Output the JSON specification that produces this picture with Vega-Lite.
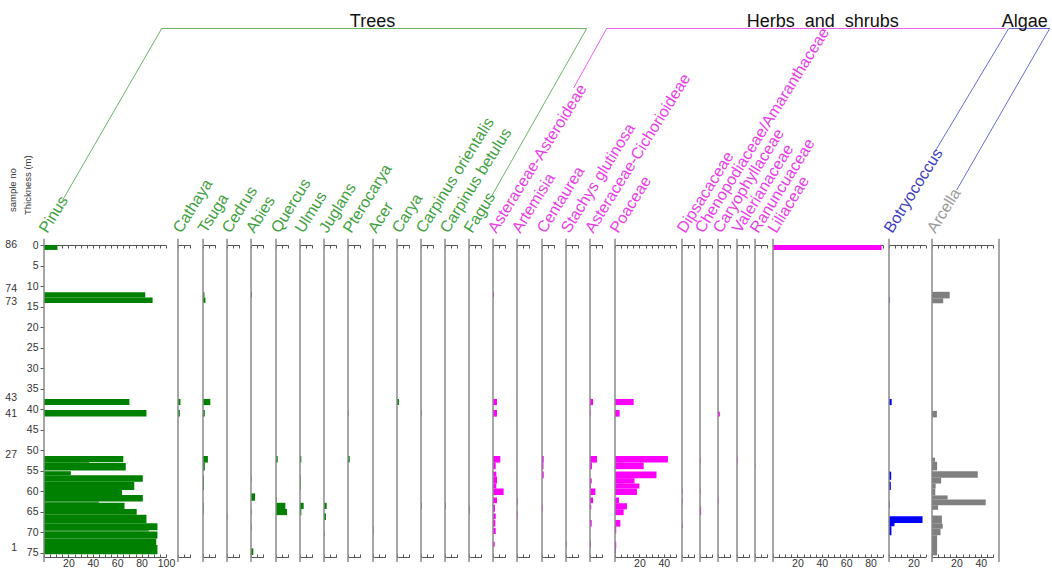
{
"$schema": "https://vega.github.io/schema/vega-lite/v6.json",
"autosize": {"type": "pad"},
"padding": {"left": 5, "top": 13, "right": 0, "bottom": 0},
"background": "white",
"config": {"view": {"stroke": null}, "font": "Liberation Sans",
  "axis": {"grid": false, "domainColor": "#555", "tickColor": "#555", "tickSize": -3, "labelFontSize": 10.5, "labelColor": "#333", "labelFont": "Liberation Sans", "domainWidth": 1, "tickWidth": 1, "labelPadding": 4, "labelFlush": false, "labelOverlap": false}},
"bounds": "flush",
"spacing": 0,
"data": {"values": [{}]},
"datasets": {
"samples": [{"sample": "86", "depth": 0}, {"sample": "74", "depth": 10.7}, {"sample": "73", "depth": 13.8}, {"sample": "43", "depth": 37.3}, {"sample": "41", "depth": 41.2}, {"sample": "27", "depth": 51.2}, {"sample": "1", "depth": 73.9}],
"pollen": [
{"taxon": "Pinus", "top": 0, "bottom": 1.2, "value": 11},
{"taxon": "Pinus", "top": 11.5, "bottom": 12.8, "value": 83},
{"taxon": "Pinus", "top": 12.8, "bottom": 14.1, "value": 89},
{"taxon": "Pinus", "top": 37.5, "bottom": 39.0, "value": 70},
{"taxon": "Pinus", "top": 40.2, "bottom": 41.8, "value": 84},
{"taxon": "Pinus", "top": 51.4, "bottom": 52.9, "value": 65},
{"taxon": "Pinus", "top": 52.9, "bottom": 53.1, "value": 37},
{"taxon": "Pinus", "top": 53.1, "bottom": 54.9, "value": 67},
{"taxon": "Pinus", "top": 55.1, "bottom": 56.1, "value": 22},
{"taxon": "Pinus", "top": 56.1, "bottom": 57.7, "value": 81},
{"taxon": "Pinus", "top": 57.7, "bottom": 59.7, "value": 74},
{"taxon": "Pinus", "top": 59.7, "bottom": 60.9, "value": 64},
{"taxon": "Pinus", "top": 60.9, "bottom": 62.5, "value": 81},
{"taxon": "Pinus", "top": 62.5, "bottom": 62.8, "value": 45},
{"taxon": "Pinus", "top": 62.8, "bottom": 64.3, "value": 66},
{"taxon": "Pinus", "top": 64.3, "bottom": 65.7, "value": 76},
{"taxon": "Pinus", "top": 65.7, "bottom": 67.8, "value": 84},
{"taxon": "Pinus", "top": 67.8, "bottom": 69.5, "value": 93},
{"taxon": "Pinus", "top": 69.5, "bottom": 69.8, "value": 86},
{"taxon": "Pinus", "top": 69.8, "bottom": 71.5, "value": 93},
{"taxon": "Pinus", "top": 71.5, "bottom": 73.1, "value": 92},
{"taxon": "Pinus", "top": 73.1, "bottom": 75.3, "value": 93},
{"taxon": "Cathaya", "top": 37.5, "bottom": 39.0, "value": 2},
{"taxon": "Cathaya", "top": 40.2, "bottom": 41.8, "value": 1.5},
{"taxon": "Tsuga", "top": 11.5, "bottom": 12.8, "value": 1.2},
{"taxon": "Tsuga", "top": 12.8, "bottom": 14.1, "value": 2},
{"taxon": "Tsuga", "top": 37.5, "bottom": 39.0, "value": 6},
{"taxon": "Tsuga", "top": 40.2, "bottom": 41.8, "value": 1.5},
{"taxon": "Tsuga", "top": 51.4, "bottom": 53.0, "value": 4},
{"taxon": "Tsuga", "top": 53.0, "bottom": 54.9, "value": 1.5},
{"taxon": "Tsuga", "top": 56.1, "bottom": 57.7, "value": 0.8},
{"taxon": "Tsuga", "top": 57.7, "bottom": 59.7, "value": 0.8},
{"taxon": "Tsuga", "top": 62.8, "bottom": 64.3, "value": 0.6},
{"taxon": "Tsuga", "top": 64.3, "bottom": 65.7, "value": 0.5},
{"taxon": "Cedrus", "top": 65.4, "bottom": 67.0, "value": 0.4},
{"taxon": "Abies", "top": 11.5, "bottom": 12.8, "value": 0.7},
{"taxon": "Abies", "top": 56.1, "bottom": 57.7, "value": 0.4},
{"taxon": "Abies", "top": 60.5, "bottom": 62.3, "value": 3.3},
{"taxon": "Abies", "top": 64.3, "bottom": 65.7, "value": 0.4},
{"taxon": "Abies", "top": 67.8, "bottom": 69.6, "value": 0.4},
{"taxon": "Abies", "top": 73.9, "bottom": 75.5, "value": 1.9},
{"taxon": "Quercus", "top": 51.4, "bottom": 53.0, "value": 1.4},
{"taxon": "Quercus", "top": 61.3, "bottom": 62.8, "value": 0.5},
{"taxon": "Quercus", "top": 62.8, "bottom": 64.3, "value": 7.7},
{"taxon": "Quercus", "top": 64.3, "bottom": 65.8, "value": 9},
{"taxon": "Ulmus", "top": 51.4, "bottom": 53.0, "value": 1.1},
{"taxon": "Ulmus", "top": 56.1, "bottom": 57.7, "value": 0.6},
{"taxon": "Ulmus", "top": 57.7, "bottom": 59.7, "value": 0.6},
{"taxon": "Ulmus", "top": 62.8, "bottom": 64.3, "value": 3},
{"taxon": "Ulmus", "top": 64.3, "bottom": 65.8, "value": 1.1},
{"taxon": "Juglans", "top": 62.8, "bottom": 64.3, "value": 2.2},
{"taxon": "Juglans", "top": 65.4, "bottom": 67.0, "value": 1.6},
{"taxon": "Juglans", "top": 69.8, "bottom": 71.0, "value": 0.5},
{"taxon": "Pterocarya", "top": 40.2, "bottom": 41.8, "value": 0.5},
{"taxon": "Pterocarya", "top": 51.4, "bottom": 53.0, "value": 1.4},
{"taxon": "Acer", "top": 68.6, "bottom": 70.6, "value": 0.4},
{"taxon": "Carya", "top": 37.5, "bottom": 39.0, "value": 1.6},
{"taxon": "Carpinus orientalis", "top": 40.2, "bottom": 41.8, "value": 0.5},
{"taxon": "Carpinus orientalis", "top": 62.8, "bottom": 64.3, "value": 0.5},
{"taxon": "Carpinus betulus", "top": 62.8, "bottom": 64.3, "value": 0.5},
{"taxon": "Fagus", "top": 63.5, "bottom": 65.5, "value": 0.5},
{"taxon": "Asteraceae-Asteroideae", "top": 11.5, "bottom": 12.8, "value": 0.8},
{"taxon": "Asteraceae-Asteroideae", "top": 37.5, "bottom": 39.0, "value": 3.3},
{"taxon": "Asteraceae-Asteroideae", "top": 40.2, "bottom": 41.8, "value": 3.3},
{"taxon": "Asteraceae-Asteroideae", "top": 51.4, "bottom": 53.0, "value": 6},
{"taxon": "Asteraceae-Asteroideae", "top": 53.0, "bottom": 54.6, "value": 2.2},
{"taxon": "Asteraceae-Asteroideae", "top": 55.2, "bottom": 56.4, "value": 2.7},
{"taxon": "Asteraceae-Asteroideae", "top": 56.4, "bottom": 58.1, "value": 3.3},
{"taxon": "Asteraceae-Asteroideae", "top": 58.1, "bottom": 59.3, "value": 2.7},
{"taxon": "Asteraceae-Asteroideae", "top": 59.3, "bottom": 60.9, "value": 8.7},
{"taxon": "Asteraceae-Asteroideae", "top": 61.5, "bottom": 62.9, "value": 3.3},
{"taxon": "Asteraceae-Asteroideae", "top": 63.3, "bottom": 65.0, "value": 1.6},
{"taxon": "Asteraceae-Asteroideae", "top": 65.4, "bottom": 66.8, "value": 2.2},
{"taxon": "Asteraceae-Asteroideae", "top": 67.0, "bottom": 68.6, "value": 1.9},
{"taxon": "Asteraceae-Asteroideae", "top": 68.9, "bottom": 70.4, "value": 2.2},
{"taxon": "Asteraceae-Asteroideae", "top": 72.3, "bottom": 73.5, "value": 1.4},
{"taxon": "Artemisia", "top": 61.5, "bottom": 63.3, "value": 0.6},
{"taxon": "Artemisia", "top": 65.0, "bottom": 66.8, "value": 0.6},
{"taxon": "Centaurea", "top": 51.4, "bottom": 53.0, "value": 1.4},
{"taxon": "Centaurea", "top": 53.0, "bottom": 54.6, "value": 1.2},
{"taxon": "Centaurea", "top": 55.2, "bottom": 56.8, "value": 1.4},
{"taxon": "Centaurea", "top": 63.3, "bottom": 65.0, "value": 0.5},
{"taxon": "Stachys glutinosa", "top": 72.3, "bottom": 73.5, "value": 0.6},
{"taxon": "Asteraceae-Cichorioideae", "top": 37.5, "bottom": 39.0, "value": 2.5},
{"taxon": "Asteraceae-Cichorioideae", "top": 40.2, "bottom": 41.8, "value": 0.5},
{"taxon": "Asteraceae-Cichorioideae", "top": 51.4, "bottom": 53.0, "value": 5.7},
{"taxon": "Asteraceae-Cichorioideae", "top": 53.0, "bottom": 54.6, "value": 1.6},
{"taxon": "Asteraceae-Cichorioideae", "top": 56.8, "bottom": 58.1, "value": 1.4},
{"taxon": "Asteraceae-Cichorioideae", "top": 58.1, "bottom": 59.3, "value": 0.6},
{"taxon": "Asteraceae-Cichorioideae", "top": 59.3, "bottom": 60.9, "value": 4.4},
{"taxon": "Asteraceae-Cichorioideae", "top": 61.5, "bottom": 62.9, "value": 2.5},
{"taxon": "Asteraceae-Cichorioideae", "top": 63.3, "bottom": 64.4, "value": 1},
{"taxon": "Asteraceae-Cichorioideae", "top": 67.0, "bottom": 68.6, "value": 1.4},
{"taxon": "Asteraceae-Cichorioideae", "top": 72.3, "bottom": 73.5, "value": 0.8},
{"taxon": "Poaceae", "top": 37.5, "bottom": 39.0, "value": 15.3},
{"taxon": "Poaceae", "top": 40.2, "bottom": 41.8, "value": 3.8},
{"taxon": "Poaceae", "top": 51.4, "bottom": 53.0, "value": 43.4},
{"taxon": "Poaceae", "top": 53.0, "bottom": 54.6, "value": 23.5},
{"taxon": "Poaceae", "top": 55.2, "bottom": 56.8, "value": 34},
{"taxon": "Poaceae", "top": 56.8, "bottom": 58.1, "value": 16},
{"taxon": "Poaceae", "top": 58.1, "bottom": 59.3, "value": 20},
{"taxon": "Poaceae", "top": 59.3, "bottom": 60.9, "value": 18},
{"taxon": "Poaceae", "top": 61.5, "bottom": 62.9, "value": 3.3},
{"taxon": "Poaceae", "top": 62.9, "bottom": 64.4, "value": 9.8},
{"taxon": "Poaceae", "top": 64.4, "bottom": 65.8, "value": 7.1},
{"taxon": "Poaceae", "top": 67.0, "bottom": 68.6, "value": 4.4},
{"taxon": "Poaceae", "top": 68.6, "bottom": 70.2, "value": 1},
{"taxon": "Poaceae", "top": 72.3, "bottom": 73.9, "value": 1},
{"taxon": "Poaceae", "top": 73.9, "bottom": 75.2, "value": 0.8},
{"taxon": "Dipsacaceae", "top": 59.3, "bottom": 60.5, "value": 0.5},
{"taxon": "Dipsacaceae", "top": 61.7, "bottom": 63.3, "value": 0.5},
{"taxon": "Dipsacaceae", "top": 67.8, "bottom": 69.0, "value": 0.5},
{"taxon": "Chenopodiaceae/Amaranthaceae", "top": 52.0, "bottom": 53.2, "value": 0.5},
{"taxon": "Chenopodiaceae/Amaranthaceae", "top": 59.3, "bottom": 60.5, "value": 0.5},
{"taxon": "Chenopodiaceae/Amaranthaceae", "top": 63.7, "bottom": 65.8, "value": 0.9},
{"taxon": "Caryophyllaceae", "top": 40.6, "bottom": 41.8, "value": 1.5},
{"taxon": "Caryophyllaceae", "top": 61.7, "bottom": 62.9, "value": 0.5},
{"taxon": "Valerianaceae", "top": 51.6, "bottom": 53.2, "value": 0.5},
{"taxon": "Ranuncuaceae", "top": 53.2, "bottom": 54.4, "value": 0.3},
{"taxon": "Liliaceae", "top": 0, "bottom": 1.2, "value": 89},
{"taxon": "Botryococcus", "top": 12.6, "bottom": 14.1, "value": 0.5},
{"taxon": "Botryococcus", "top": 37.5, "bottom": 39.0, "value": 2.2},
{"taxon": "Botryococcus", "top": 55.2, "bottom": 57.2, "value": 1.8},
{"taxon": "Botryococcus", "top": 57.7, "bottom": 59.7, "value": 1.5},
{"taxon": "Botryococcus", "top": 62.5, "bottom": 64.1, "value": 0.5},
{"taxon": "Botryococcus", "top": 66.1, "bottom": 67.7, "value": 27.5},
{"taxon": "Botryococcus", "top": 67.7, "bottom": 68.5, "value": 4.5},
{"taxon": "Botryococcus", "top": 68.5, "bottom": 70.7, "value": 2},
{"taxon": "Arcella", "top": 11.4, "bottom": 13.0, "value": 14.5},
{"taxon": "Arcella", "top": 13.0, "bottom": 14.2, "value": 9.2},
{"taxon": "Arcella", "top": 40.4, "bottom": 42.0, "value": 4},
{"taxon": "Arcella", "top": 51.8, "bottom": 52.8, "value": 2.5},
{"taxon": "Arcella", "top": 52.8, "bottom": 54.9, "value": 4.2},
{"taxon": "Arcella", "top": 55.1, "bottom": 56.7, "value": 37.5},
{"taxon": "Arcella", "top": 56.7, "bottom": 58.1, "value": 7.5},
{"taxon": "Arcella", "top": 58.1, "bottom": 59.3, "value": 3},
{"taxon": "Arcella", "top": 59.3, "bottom": 61.0, "value": 2.7},
{"taxon": "Arcella", "top": 61.0, "bottom": 62.0, "value": 12.8},
{"taxon": "Arcella", "top": 62.0, "bottom": 63.4, "value": 44},
{"taxon": "Arcella", "top": 63.4, "bottom": 64.5, "value": 5},
{"taxon": "Arcella", "top": 65.9, "bottom": 67.9, "value": 8.1},
{"taxon": "Arcella", "top": 67.9, "bottom": 69.1, "value": 8.8},
{"taxon": "Arcella", "top": 69.1, "bottom": 70.7, "value": 7},
{"taxon": "Arcella", "top": 70.7, "bottom": 75.6, "value": 4.2}
]},
"resolve": {"scale": {"x": "independent", "y": "independent"}},
"hconcat": [
{"width": 134, "height": 312, "layer": [
 {"data": {"name": "pollen"}, "transform": [{"filter": "datum.taxon == 'Pinus'"}], "mark": {"type": "rect", "color": "#008000"},
  "encoding": {"x": {"field": "value", "type": "quantitative", "scale": {"domain": [0, 100], "range": [0, 122], "nice": false}, "axis": {"orient": "bottom", "values": [0,5,10,15,20,25,30,35,40,45,50,55,60,65,70,75,80,85,90,95,100], "labelExpr": "datum.value > 0 && datum.value % 20 == 0 ? datum.label : ''", "title": null}},
   "x2": {"datum": 0},
   "y": {"field": "top", "type": "quantitative", "scale": {"domain": [0, 76], "reverse": true, "nice": false}, "axis": {"orient": "left", "values": [0,5,10,15,20,25,30,35,40,45,50,55,60,65,70,75], "tickSize": 4, "domain": false, "title": null, "labelPadding": 2}},
   "y2": {"field": "bottom"}}},
 {"mark": {"type": "rule", "color": "#8a8a8a", "strokeWidth": 1.5}, "encoding": {"x": {"datum": 0, "type": "quantitative", "axis": {"orient": "top", "values": [0,5,10,15,20,25,30,35,40,45,50,55,60,65,70,75,80,85,90,95,100], "labels": false, "title": null}}, "y": {"datum": -1.5, "type": "quantitative", "axis": null}, "y2": {"datum": 77.2}}},
 {"mark": {"type": "text", "text": "Pinus", "angle": 302, "align": "left", "baseline": "alphabetic", "dx": 11, "dy": -3, "fontSize": 16, "color": "#3f9f3f"}, "encoding": {"x": {"datum": 0, "type": "quantitative", "axis": null}, "y": {"datum": 0, "type": "quantitative", "axis": null}}},
 {"data": {"name": "samples"}, "mark": {"type": "text", "align": "right", "baseline": "middle", "dx": -27, "fontSize": 10.5, "color": "#333"}, "encoding": {"x": {"datum": 0, "type": "quantitative", "axis": null}, "y": {"field": "depth", "type": "quantitative", "axis": null}, "text": {"field": "sample"}}},
 {"mark": {"type": "text", "text": "Thickness (m)", "angle": 270, "align": "left", "baseline": "middle", "dx": 30, "dy": -16, "fontSize": 9.5, "color": "#333"}, "encoding": {"x": {"datum": 0, "type": "quantitative", "axis": null}, "y": {"datum": 0, "type": "quantitative", "axis": null}}},
 {"mark": {"type": "text", "text": "sample no", "angle": 270, "align": "left", "baseline": "middle", "dx": 33, "dy": -31, "fontSize": 9.5, "color": "#333"}, "encoding": {"x": {"datum": 0, "type": "quantitative", "axis": null}, "y": {"datum": 0, "type": "quantitative", "axis": null}}},
 {"mark": {"type": "rule", "color": "#6bb36b", "strokeWidth": 1}, "encoding": {"x": {"datum": 15.33, "type": "quantitative", "axis": null}, "x2": {"datum": 96.48}, "y": {"datum": -10.96, "type": "quantitative", "axis": null}, "y2": {"datum": -52.74}}},
 {"mark": {"type": "rule", "color": "#6bb36b", "strokeWidth": 1}, "encoding": {"x": {"datum": 96.48, "type": "quantitative", "axis": null}, "x2": {"datum": 444.84}, "y": {"datum": -52.74, "type": "quantitative", "axis": null}, "y2": {"datum": -52.74}}},
 {"mark": {"type": "rule", "color": "#6bb36b", "strokeWidth": 1}, "encoding": {"x": {"datum": 444.84, "type": "quantitative", "axis": null}, "x2": {"datum": 366.97}, "y": {"datum": -52.74, "type": "quantitative", "axis": null}, "y2": {"datum": -11.94}}},
 {"mark": {"type": "rule", "color": "#f060f0", "strokeWidth": 1}, "encoding": {"x": {"datum": 434.18, "type": "quantitative", "axis": null}, "x2": {"datum": 461.23}, "y": {"datum": -38.25, "type": "quantitative", "axis": null}, "y2": {"datum": -52.74}}},
 {"mark": {"type": "rule", "color": "#f060f0", "strokeWidth": 1}, "encoding": {"x": {"datum": 461.23, "type": "quantitative", "axis": null}, "x2": {"datum": 788.28}, "y": {"datum": -52.74, "type": "quantitative", "axis": null}, "y2": {"datum": -52.74}}},
 {"mark": {"type": "rule", "color": "#6a6ad8", "strokeWidth": 1}, "encoding": {"x": {"datum": 790.74, "type": "quantitative", "axis": null}, "x2": {"datum": 730.08}, "y": {"datum": -52.74, "type": "quantitative", "axis": null}, "y2": {"datum": -22.66}}},
 {"mark": {"type": "rule", "color": "#6a6ad8", "strokeWidth": 1}, "encoding": {"x": {"datum": 790.74, "type": "quantitative", "axis": null}, "x2": {"datum": 824.34}, "y": {"datum": -52.74, "type": "quantitative", "axis": null}, "y2": {"datum": -52.74}}},
 {"mark": {"type": "rule", "color": "#6a6ad8", "strokeWidth": 1}, "encoding": {"x": {"datum": 824.34, "type": "quantitative", "axis": null}, "x2": {"datum": 748.11}, "y": {"datum": -52.74, "type": "quantitative", "axis": null}, "y2": {"datum": -13.40}}},
 {"mark": {"type": "text", "text": "Trees", "align": "center", "baseline": "alphabetic", "fontSize": 18, "color": "#111"}, "encoding": {"x": {"datum": 269.3, "type": "quantitative", "axis": null}, "y": {"datum": -53.1, "type": "quantitative", "axis": null}}},
 {"mark": {"type": "text", "text": "Herbs\u00a0 and\u00a0 shrubs", "align": "center", "baseline": "alphabetic", "fontSize": 18, "color": "#111"}, "encoding": {"x": {"datum": 638.3, "type": "quantitative", "axis": null}, "y": {"datum": -53.1, "type": "quantitative", "axis": null}}},
 {"mark": {"type": "text", "text": "Algae", "align": "center", "baseline": "alphabetic", "fontSize": 18, "color": "#111"}, "encoding": {"x": {"datum": 803.9, "type": "quantitative", "axis": null}, "y": {"datum": -53.1, "type": "quantitative", "axis": null}}}
], "resolve": {"axis": {"x": "independent", "y": "independent"}}},
{"width": 25, "height": 312, "layer": [
 {"data": {"name": "pollen"}, "transform": [{"filter": "datum.taxon == 'Cathaya'"}], "mark": {"type": "rect", "color": "#008000"}, "encoding": {"x": {"field": "value", "type": "quantitative", "scale": {"domain": [0, 10], "range": [0, 12.2], "nice": false}, "axis": {"orient": "bottom", "values": [0, 5, 10], "labels": false, "title": null}}, "x2": {"datum": 0}, "y": {"field": "top", "type": "quantitative", "scale": {"domain": [0, 76], "reverse": true, "nice": false}, "axis": null}, "y2": {"field": "bottom"}}},
 {"mark": {"type": "rule", "color": "#8a8a8a", "strokeWidth": 1.5}, "encoding": {"x": {"datum": 0, "type": "quantitative", "axis": {"orient": "top", "values": [0, 5, 10], "labels": false, "title": null}}, "y": {"datum": -1.5, "type": "quantitative", "axis": null}, "y2": {"datum": 77.2}}},
 {"mark": {"type": "text", "text": "Cathaya", "angle": 302, "align": "left", "baseline": "alphabetic", "dx": 11, "dy": -3, "fontSize": 16, "color": "#3f9f3f"}, "encoding": {"x": {"datum": 0, "type": "quantitative", "axis": null}, "y": {"datum": 0, "type": "quantitative", "axis": null}}}
], "resolve": {"axis": {"x": "independent"}}},
{"width": 24, "height": 312, "layer": [
 {"data": {"name": "pollen"}, "transform": [{"filter": "datum.taxon == 'Tsuga'"}], "mark": {"type": "rect", "color": "#008000"}, "encoding": {"x": {"field": "value", "type": "quantitative", "scale": {"domain": [0, 10], "range": [0, 12.2], "nice": false}, "axis": {"orient": "bottom", "values": [0, 5, 10], "labels": false, "title": null}}, "x2": {"datum": 0}, "y": {"field": "top", "type": "quantitative", "scale": {"domain": [0, 76], "reverse": true, "nice": false}, "axis": null}, "y2": {"field": "bottom"}}},
 {"mark": {"type": "rule", "color": "#8a8a8a", "strokeWidth": 1.5}, "encoding": {"x": {"datum": 0, "type": "quantitative", "axis": {"orient": "top", "values": [0, 5, 10], "labels": false, "title": null}}, "y": {"datum": -1.5, "type": "quantitative", "axis": null}, "y2": {"datum": 77.2}}},
 {"mark": {"type": "text", "text": "Tsuga", "angle": 302, "align": "left", "baseline": "alphabetic", "dx": 11, "dy": -3, "fontSize": 16, "color": "#3f9f3f"}, "encoding": {"x": {"datum": 0, "type": "quantitative", "axis": null}, "y": {"datum": 0, "type": "quantitative", "axis": null}}}
], "resolve": {"axis": {"x": "independent"}}},
{"width": 24, "height": 312, "layer": [
 {"data": {"name": "pollen"}, "transform": [{"filter": "datum.taxon == 'Cedrus'"}], "mark": {"type": "rect", "color": "#008000"}, "encoding": {"x": {"field": "value", "type": "quantitative", "scale": {"domain": [0, 10], "range": [0, 12.2], "nice": false}, "axis": {"orient": "bottom", "values": [0, 5, 10], "labels": false, "title": null}}, "x2": {"datum": 0}, "y": {"field": "top", "type": "quantitative", "scale": {"domain": [0, 76], "reverse": true, "nice": false}, "axis": null}, "y2": {"field": "bottom"}}},
 {"mark": {"type": "rule", "color": "#8a8a8a", "strokeWidth": 1.5}, "encoding": {"x": {"datum": 0, "type": "quantitative", "axis": {"orient": "top", "values": [0, 5, 10], "labels": false, "title": null}}, "y": {"datum": -1.5, "type": "quantitative", "axis": null}, "y2": {"datum": 77.2}}},
 {"mark": {"type": "text", "text": "Cedrus", "angle": 302, "align": "left", "baseline": "alphabetic", "dx": 11, "dy": -3, "fontSize": 16, "color": "#3f9f3f"}, "encoding": {"x": {"datum": 0, "type": "quantitative", "axis": null}, "y": {"datum": 0, "type": "quantitative", "axis": null}}}
], "resolve": {"axis": {"x": "independent"}}},
{"width": 25, "height": 312, "layer": [
 {"data": {"name": "pollen"}, "transform": [{"filter": "datum.taxon == 'Abies'"}], "mark": {"type": "rect", "color": "#008000"}, "encoding": {"x": {"field": "value", "type": "quantitative", "scale": {"domain": [0, 10], "range": [0, 12.2], "nice": false}, "axis": {"orient": "bottom", "values": [0, 5, 10], "labels": false, "title": null}}, "x2": {"datum": 0}, "y": {"field": "top", "type": "quantitative", "scale": {"domain": [0, 76], "reverse": true, "nice": false}, "axis": null}, "y2": {"field": "bottom"}}},
 {"mark": {"type": "rule", "color": "#8a8a8a", "strokeWidth": 1.5}, "encoding": {"x": {"datum": 0, "type": "quantitative", "axis": {"orient": "top", "values": [0, 5, 10], "labels": false, "title": null}}, "y": {"datum": -1.5, "type": "quantitative", "axis": null}, "y2": {"datum": 77.2}}},
 {"mark": {"type": "text", "text": "Abies", "angle": 302, "align": "left", "baseline": "alphabetic", "dx": 11, "dy": -3, "fontSize": 16, "color": "#3f9f3f"}, "encoding": {"x": {"datum": 0, "type": "quantitative", "axis": null}, "y": {"datum": 0, "type": "quantitative", "axis": null}}}
], "resolve": {"axis": {"x": "independent"}}},
{"width": 24, "height": 312, "layer": [
 {"data": {"name": "pollen"}, "transform": [{"filter": "datum.taxon == 'Quercus'"}], "mark": {"type": "rect", "color": "#008000"}, "encoding": {"x": {"field": "value", "type": "quantitative", "scale": {"domain": [0, 10], "range": [0, 12.2], "nice": false}, "axis": {"orient": "bottom", "values": [0, 5, 10], "labels": false, "title": null}}, "x2": {"datum": 0}, "y": {"field": "top", "type": "quantitative", "scale": {"domain": [0, 76], "reverse": true, "nice": false}, "axis": null}, "y2": {"field": "bottom"}}},
 {"mark": {"type": "rule", "color": "#8a8a8a", "strokeWidth": 1.5}, "encoding": {"x": {"datum": 0, "type": "quantitative", "axis": {"orient": "top", "values": [0, 5, 10], "labels": false, "title": null}}, "y": {"datum": -1.5, "type": "quantitative", "axis": null}, "y2": {"datum": 77.2}}},
 {"mark": {"type": "text", "text": "Quercus", "angle": 302, "align": "left", "baseline": "alphabetic", "dx": 11, "dy": -3, "fontSize": 16, "color": "#3f9f3f"}, "encoding": {"x": {"datum": 0, "type": "quantitative", "axis": null}, "y": {"datum": 0, "type": "quantitative", "axis": null}}}
], "resolve": {"axis": {"x": "independent"}}},
{"width": 24, "height": 312, "layer": [
 {"data": {"name": "pollen"}, "transform": [{"filter": "datum.taxon == 'Ulmus'"}], "mark": {"type": "rect", "color": "#008000"}, "encoding": {"x": {"field": "value", "type": "quantitative", "scale": {"domain": [0, 10], "range": [0, 12.2], "nice": false}, "axis": {"orient": "bottom", "values": [0, 5, 10], "labels": false, "title": null}}, "x2": {"datum": 0}, "y": {"field": "top", "type": "quantitative", "scale": {"domain": [0, 76], "reverse": true, "nice": false}, "axis": null}, "y2": {"field": "bottom"}}},
 {"mark": {"type": "rule", "color": "#8a8a8a", "strokeWidth": 1.5}, "encoding": {"x": {"datum": 0, "type": "quantitative", "axis": {"orient": "top", "values": [0, 5, 10], "labels": false, "title": null}}, "y": {"datum": -1.5, "type": "quantitative", "axis": null}, "y2": {"datum": 77.2}}},
 {"mark": {"type": "text", "text": "Ulmus", "angle": 302, "align": "left", "baseline": "alphabetic", "dx": 11, "dy": -3, "fontSize": 16, "color": "#3f9f3f"}, "encoding": {"x": {"datum": 0, "type": "quantitative", "axis": null}, "y": {"datum": 0, "type": "quantitative", "axis": null}}}
], "resolve": {"axis": {"x": "independent"}}},
{"width": 24, "height": 312, "layer": [
 {"data": {"name": "pollen"}, "transform": [{"filter": "datum.taxon == 'Juglans'"}], "mark": {"type": "rect", "color": "#008000"}, "encoding": {"x": {"field": "value", "type": "quantitative", "scale": {"domain": [0, 10], "range": [0, 12.2], "nice": false}, "axis": {"orient": "bottom", "values": [0, 5, 10], "labels": false, "title": null}}, "x2": {"datum": 0}, "y": {"field": "top", "type": "quantitative", "scale": {"domain": [0, 76], "reverse": true, "nice": false}, "axis": null}, "y2": {"field": "bottom"}}},
 {"mark": {"type": "rule", "color": "#8a8a8a", "strokeWidth": 1.5}, "encoding": {"x": {"datum": 0, "type": "quantitative", "axis": {"orient": "top", "values": [0, 5, 10], "labels": false, "title": null}}, "y": {"datum": -1.5, "type": "quantitative", "axis": null}, "y2": {"datum": 77.2}}},
 {"mark": {"type": "text", "text": "Juglans", "angle": 302, "align": "left", "baseline": "alphabetic", "dx": 11, "dy": -3, "fontSize": 16, "color": "#3f9f3f"}, "encoding": {"x": {"datum": 0, "type": "quantitative", "axis": null}, "y": {"datum": 0, "type": "quantitative", "axis": null}}}
], "resolve": {"axis": {"x": "independent"}}},
{"width": 25, "height": 312, "layer": [
 {"data": {"name": "pollen"}, "transform": [{"filter": "datum.taxon == 'Pterocarya'"}], "mark": {"type": "rect", "color": "#008000"}, "encoding": {"x": {"field": "value", "type": "quantitative", "scale": {"domain": [0, 10], "range": [0, 12.2], "nice": false}, "axis": {"orient": "bottom", "values": [0, 5, 10], "labels": false, "title": null}}, "x2": {"datum": 0}, "y": {"field": "top", "type": "quantitative", "scale": {"domain": [0, 76], "reverse": true, "nice": false}, "axis": null}, "y2": {"field": "bottom"}}},
 {"mark": {"type": "rule", "color": "#8a8a8a", "strokeWidth": 1.5}, "encoding": {"x": {"datum": 0, "type": "quantitative", "axis": {"orient": "top", "values": [0, 5, 10], "labels": false, "title": null}}, "y": {"datum": -1.5, "type": "quantitative", "axis": null}, "y2": {"datum": 77.2}}},
 {"mark": {"type": "text", "text": "Pterocarya", "angle": 302, "align": "left", "baseline": "alphabetic", "dx": 11, "dy": -3, "fontSize": 16, "color": "#3f9f3f"}, "encoding": {"x": {"datum": 0, "type": "quantitative", "axis": null}, "y": {"datum": 0, "type": "quantitative", "axis": null}}}
], "resolve": {"axis": {"x": "independent"}}},
{"width": 24, "height": 312, "layer": [
 {"data": {"name": "pollen"}, "transform": [{"filter": "datum.taxon == 'Acer'"}], "mark": {"type": "rect", "color": "#008000"}, "encoding": {"x": {"field": "value", "type": "quantitative", "scale": {"domain": [0, 10], "range": [0, 12.2], "nice": false}, "axis": {"orient": "bottom", "values": [0, 5, 10], "labels": false, "title": null}}, "x2": {"datum": 0}, "y": {"field": "top", "type": "quantitative", "scale": {"domain": [0, 76], "reverse": true, "nice": false}, "axis": null}, "y2": {"field": "bottom"}}},
 {"mark": {"type": "rule", "color": "#8a8a8a", "strokeWidth": 1.5}, "encoding": {"x": {"datum": 0, "type": "quantitative", "axis": {"orient": "top", "values": [0, 5, 10], "labels": false, "title": null}}, "y": {"datum": -1.5, "type": "quantitative", "axis": null}, "y2": {"datum": 77.2}}},
 {"mark": {"type": "text", "text": "Acer", "angle": 302, "align": "left", "baseline": "alphabetic", "dx": 11, "dy": -3, "fontSize": 16, "color": "#3f9f3f"}, "encoding": {"x": {"datum": 0, "type": "quantitative", "axis": null}, "y": {"datum": 0, "type": "quantitative", "axis": null}}}
], "resolve": {"axis": {"x": "independent"}}},
{"width": 24, "height": 312, "layer": [
 {"data": {"name": "pollen"}, "transform": [{"filter": "datum.taxon == 'Carya'"}], "mark": {"type": "rect", "color": "#008000"}, "encoding": {"x": {"field": "value", "type": "quantitative", "scale": {"domain": [0, 10], "range": [0, 12.2], "nice": false}, "axis": {"orient": "bottom", "values": [0, 5, 10], "labels": false, "title": null}}, "x2": {"datum": 0}, "y": {"field": "top", "type": "quantitative", "scale": {"domain": [0, 76], "reverse": true, "nice": false}, "axis": null}, "y2": {"field": "bottom"}}},
 {"mark": {"type": "rule", "color": "#8a8a8a", "strokeWidth": 1.5}, "encoding": {"x": {"datum": 0, "type": "quantitative", "axis": {"orient": "top", "values": [0, 5, 10], "labels": false, "title": null}}, "y": {"datum": -1.5, "type": "quantitative", "axis": null}, "y2": {"datum": 77.2}}},
 {"mark": {"type": "text", "text": "Carya", "angle": 302, "align": "left", "baseline": "alphabetic", "dx": 11, "dy": -3, "fontSize": 16, "color": "#3f9f3f"}, "encoding": {"x": {"datum": 0, "type": "quantitative", "axis": null}, "y": {"datum": 0, "type": "quantitative", "axis": null}}}
], "resolve": {"axis": {"x": "independent"}}},
{"width": 24, "height": 312, "layer": [
 {"data": {"name": "pollen"}, "transform": [{"filter": "datum.taxon == 'Carpinus orientalis'"}], "mark": {"type": "rect", "color": "#008000"}, "encoding": {"x": {"field": "value", "type": "quantitative", "scale": {"domain": [0, 10], "range": [0, 12.2], "nice": false}, "axis": {"orient": "bottom", "values": [0, 5, 10], "labels": false, "title": null}}, "x2": {"datum": 0}, "y": {"field": "top", "type": "quantitative", "scale": {"domain": [0, 76], "reverse": true, "nice": false}, "axis": null}, "y2": {"field": "bottom"}}},
 {"mark": {"type": "rule", "color": "#8a8a8a", "strokeWidth": 1.5}, "encoding": {"x": {"datum": 0, "type": "quantitative", "axis": {"orient": "top", "values": [0, 5, 10], "labels": false, "title": null}}, "y": {"datum": -1.5, "type": "quantitative", "axis": null}, "y2": {"datum": 77.2}}},
 {"mark": {"type": "text", "text": "Carpinus orientalis", "angle": 302, "align": "left", "baseline": "alphabetic", "dx": 11, "dy": -3, "fontSize": 16, "color": "#3f9f3f"}, "encoding": {"x": {"datum": 0, "type": "quantitative", "axis": null}, "y": {"datum": 0, "type": "quantitative", "axis": null}}}
], "resolve": {"axis": {"x": "independent"}}},
{"width": 24, "height": 312, "layer": [
 {"data": {"name": "pollen"}, "transform": [{"filter": "datum.taxon == 'Carpinus betulus'"}], "mark": {"type": "rect", "color": "#008000"}, "encoding": {"x": {"field": "value", "type": "quantitative", "scale": {"domain": [0, 10], "range": [0, 12.2], "nice": false}, "axis": {"orient": "bottom", "values": [0, 5, 10], "labels": false, "title": null}}, "x2": {"datum": 0}, "y": {"field": "top", "type": "quantitative", "scale": {"domain": [0, 76], "reverse": true, "nice": false}, "axis": null}, "y2": {"field": "bottom"}}},
 {"mark": {"type": "rule", "color": "#8a8a8a", "strokeWidth": 1.5}, "encoding": {"x": {"datum": 0, "type": "quantitative", "axis": {"orient": "top", "values": [0, 5, 10], "labels": false, "title": null}}, "y": {"datum": -1.5, "type": "quantitative", "axis": null}, "y2": {"datum": 77.2}}},
 {"mark": {"type": "text", "text": "Carpinus betulus", "angle": 302, "align": "left", "baseline": "alphabetic", "dx": 11, "dy": -3, "fontSize": 16, "color": "#3f9f3f"}, "encoding": {"x": {"datum": 0, "type": "quantitative", "axis": null}, "y": {"datum": 0, "type": "quantitative", "axis": null}}}
], "resolve": {"axis": {"x": "independent"}}},
{"width": 24, "height": 312, "layer": [
 {"data": {"name": "pollen"}, "transform": [{"filter": "datum.taxon == 'Fagus'"}], "mark": {"type": "rect", "color": "#008000"}, "encoding": {"x": {"field": "value", "type": "quantitative", "scale": {"domain": [0, 10], "range": [0, 12.2], "nice": false}, "axis": {"orient": "bottom", "values": [0, 5, 10], "labels": false, "title": null}}, "x2": {"datum": 0}, "y": {"field": "top", "type": "quantitative", "scale": {"domain": [0, 76], "reverse": true, "nice": false}, "axis": null}, "y2": {"field": "bottom"}}},
 {"mark": {"type": "rule", "color": "#8a8a8a", "strokeWidth": 1.5}, "encoding": {"x": {"datum": 0, "type": "quantitative", "axis": {"orient": "top", "values": [0, 5, 10], "labels": false, "title": null}}, "y": {"datum": -1.5, "type": "quantitative", "axis": null}, "y2": {"datum": 77.2}}},
 {"mark": {"type": "text", "text": "Fagus", "angle": 302, "align": "left", "baseline": "alphabetic", "dx": 11, "dy": -3, "fontSize": 16, "color": "#3f9f3f"}, "encoding": {"x": {"datum": 0, "type": "quantitative", "axis": null}, "y": {"datum": 0, "type": "quantitative", "axis": null}}}
], "resolve": {"axis": {"x": "independent"}}},
{"width": 24, "height": 312, "layer": [
 {"data": {"name": "pollen"}, "transform": [{"filter": "datum.taxon == 'Asteraceae-Asteroideae'"}], "mark": {"type": "rect", "color": "#ff00ff"}, "encoding": {"x": {"field": "value", "type": "quantitative", "scale": {"domain": [0, 10], "range": [0, 12.2], "nice": false}, "axis": {"orient": "bottom", "values": [0, 5, 10], "labels": false, "title": null}}, "x2": {"datum": 0}, "y": {"field": "top", "type": "quantitative", "scale": {"domain": [0, 76], "reverse": true, "nice": false}, "axis": null}, "y2": {"field": "bottom"}}},
 {"mark": {"type": "rule", "color": "#8a8a8a", "strokeWidth": 1.5}, "encoding": {"x": {"datum": 0, "type": "quantitative", "axis": {"orient": "top", "values": [0, 5, 10], "labels": false, "title": null}}, "y": {"datum": -1.5, "type": "quantitative", "axis": null}, "y2": {"datum": 77.2}}},
 {"mark": {"type": "text", "text": "Asteraceae-Asteroideae", "angle": 302, "align": "left", "baseline": "alphabetic", "dx": 11, "dy": -3, "fontSize": 16, "color": "#e83ee8"}, "encoding": {"x": {"datum": 0, "type": "quantitative", "axis": null}, "y": {"datum": 0, "type": "quantitative", "axis": null}}}
], "resolve": {"axis": {"x": "independent"}}},
{"width": 25, "height": 312, "layer": [
 {"data": {"name": "pollen"}, "transform": [{"filter": "datum.taxon == 'Artemisia'"}], "mark": {"type": "rect", "color": "#ff00ff"}, "encoding": {"x": {"field": "value", "type": "quantitative", "scale": {"domain": [0, 10], "range": [0, 12.2], "nice": false}, "axis": {"orient": "bottom", "values": [0, 5, 10], "labels": false, "title": null}}, "x2": {"datum": 0}, "y": {"field": "top", "type": "quantitative", "scale": {"domain": [0, 76], "reverse": true, "nice": false}, "axis": null}, "y2": {"field": "bottom"}}},
 {"mark": {"type": "rule", "color": "#8a8a8a", "strokeWidth": 1.5}, "encoding": {"x": {"datum": 0, "type": "quantitative", "axis": {"orient": "top", "values": [0, 5, 10], "labels": false, "title": null}}, "y": {"datum": -1.5, "type": "quantitative", "axis": null}, "y2": {"datum": 77.2}}},
 {"mark": {"type": "text", "text": "Artemisia", "angle": 302, "align": "left", "baseline": "alphabetic", "dx": 11, "dy": -3, "fontSize": 16, "color": "#e83ee8"}, "encoding": {"x": {"datum": 0, "type": "quantitative", "axis": null}, "y": {"datum": 0, "type": "quantitative", "axis": null}}}
], "resolve": {"axis": {"x": "independent"}}},
{"width": 24, "height": 312, "layer": [
 {"data": {"name": "pollen"}, "transform": [{"filter": "datum.taxon == 'Centaurea'"}], "mark": {"type": "rect", "color": "#ff00ff"}, "encoding": {"x": {"field": "value", "type": "quantitative", "scale": {"domain": [0, 10], "range": [0, 12.2], "nice": false}, "axis": {"orient": "bottom", "values": [0, 5, 10], "labels": false, "title": null}}, "x2": {"datum": 0}, "y": {"field": "top", "type": "quantitative", "scale": {"domain": [0, 76], "reverse": true, "nice": false}, "axis": null}, "y2": {"field": "bottom"}}},
 {"mark": {"type": "rule", "color": "#8a8a8a", "strokeWidth": 1.5}, "encoding": {"x": {"datum": 0, "type": "quantitative", "axis": {"orient": "top", "values": [0, 5, 10], "labels": false, "title": null}}, "y": {"datum": -1.5, "type": "quantitative", "axis": null}, "y2": {"datum": 77.2}}},
 {"mark": {"type": "text", "text": "Centaurea", "angle": 302, "align": "left", "baseline": "alphabetic", "dx": 11, "dy": -3, "fontSize": 16, "color": "#e83ee8"}, "encoding": {"x": {"datum": 0, "type": "quantitative", "axis": null}, "y": {"datum": 0, "type": "quantitative", "axis": null}}}
], "resolve": {"axis": {"x": "independent"}}},
{"width": 24, "height": 312, "layer": [
 {"data": {"name": "pollen"}, "transform": [{"filter": "datum.taxon == 'Stachys glutinosa'"}], "mark": {"type": "rect", "color": "#ff00ff"}, "encoding": {"x": {"field": "value", "type": "quantitative", "scale": {"domain": [0, 10], "range": [0, 12.2], "nice": false}, "axis": {"orient": "bottom", "values": [0, 5, 10], "labels": false, "title": null}}, "x2": {"datum": 0}, "y": {"field": "top", "type": "quantitative", "scale": {"domain": [0, 76], "reverse": true, "nice": false}, "axis": null}, "y2": {"field": "bottom"}}},
 {"mark": {"type": "rule", "color": "#8a8a8a", "strokeWidth": 1.5}, "encoding": {"x": {"datum": 0, "type": "quantitative", "axis": {"orient": "top", "values": [0, 5, 10], "labels": false, "title": null}}, "y": {"datum": -1.5, "type": "quantitative", "axis": null}, "y2": {"datum": 77.2}}},
 {"mark": {"type": "text", "text": "Stachys glutinosa", "angle": 302, "align": "left", "baseline": "alphabetic", "dx": 11, "dy": -3, "fontSize": 16, "color": "#e83ee8"}, "encoding": {"x": {"datum": 0, "type": "quantitative", "axis": null}, "y": {"datum": 0, "type": "quantitative", "axis": null}}}
], "resolve": {"axis": {"x": "independent"}}},
{"width": 25, "height": 312, "layer": [
 {"data": {"name": "pollen"}, "transform": [{"filter": "datum.taxon == 'Asteraceae-Cichorioideae'"}], "mark": {"type": "rect", "color": "#ff00ff"}, "encoding": {"x": {"field": "value", "type": "quantitative", "scale": {"domain": [0, 10], "range": [0, 12.2], "nice": false}, "axis": {"orient": "bottom", "values": [0, 5, 10], "labels": false, "title": null}}, "x2": {"datum": 0}, "y": {"field": "top", "type": "quantitative", "scale": {"domain": [0, 76], "reverse": true, "nice": false}, "axis": null}, "y2": {"field": "bottom"}}},
 {"mark": {"type": "rule", "color": "#8a8a8a", "strokeWidth": 1.5}, "encoding": {"x": {"datum": 0, "type": "quantitative", "axis": {"orient": "top", "values": [0, 5, 10], "labels": false, "title": null}}, "y": {"datum": -1.5, "type": "quantitative", "axis": null}, "y2": {"datum": 77.2}}},
 {"mark": {"type": "text", "text": "Asteraceae-Cichorioideae", "angle": 302, "align": "left", "baseline": "alphabetic", "dx": 11, "dy": -3, "fontSize": 16, "color": "#e83ee8"}, "encoding": {"x": {"datum": 0, "type": "quantitative", "axis": null}, "y": {"datum": 0, "type": "quantitative", "axis": null}}}
], "resolve": {"axis": {"x": "independent"}}},
{"width": 67, "height": 312, "layer": [
 {"data": {"name": "pollen"}, "transform": [{"filter": "datum.taxon == 'Poaceae'"}], "mark": {"type": "rect", "color": "#ff00ff"}, "encoding": {"x": {"field": "value", "type": "quantitative", "scale": {"domain": [0, 50], "range": [0, 61], "nice": false}, "axis": {"orient": "bottom", "values": [0,5,10,15,20,25,30,35,40,45,50], "labelExpr": "datum.value > 0 && datum.value % 20 == 0 ? datum.label : ''", "title": null}}, "x2": {"datum": 0}, "y": {"field": "top", "type": "quantitative", "scale": {"domain": [0, 76], "reverse": true, "nice": false}, "axis": null}, "y2": {"field": "bottom"}}},
 {"mark": {"type": "rule", "color": "#8a8a8a", "strokeWidth": 1.5}, "encoding": {"x": {"datum": 0, "type": "quantitative", "axis": {"orient": "top", "values": [0,5,10,15,20,25,30,35,40,45,50], "labels": false, "title": null}}, "y": {"datum": -1.5, "type": "quantitative", "axis": null}, "y2": {"datum": 77.2}}},
 {"mark": {"type": "text", "text": "Poaceae", "angle": 302, "align": "left", "baseline": "alphabetic", "dx": 11, "dy": -3, "fontSize": 16, "color": "#e83ee8"}, "encoding": {"x": {"datum": 0, "type": "quantitative", "axis": null}, "y": {"datum": 0, "type": "quantitative", "axis": null}}}
], "resolve": {"axis": {"x": "independent"}}},
{"width": 18, "height": 312, "layer": [
 {"data": {"name": "pollen"}, "transform": [{"filter": "datum.taxon == 'Dipsacaceae'"}], "mark": {"type": "rect", "color": "#ff00ff"}, "encoding": {"x": {"field": "value", "type": "quantitative", "scale": {"domain": [0, 10], "range": [0, 12.2], "nice": false}, "axis": {"orient": "bottom", "values": [0, 5, 10], "labels": false, "title": null}}, "x2": {"datum": 0}, "y": {"field": "top", "type": "quantitative", "scale": {"domain": [0, 76], "reverse": true, "nice": false}, "axis": null}, "y2": {"field": "bottom"}}},
 {"mark": {"type": "rule", "color": "#8a8a8a", "strokeWidth": 1.5}, "encoding": {"x": {"datum": 0, "type": "quantitative", "axis": {"orient": "top", "values": [0, 5, 10], "labels": false, "title": null}}, "y": {"datum": -1.5, "type": "quantitative", "axis": null}, "y2": {"datum": 77.2}}},
 {"mark": {"type": "text", "text": "Dipsacaceae", "angle": 302, "align": "left", "baseline": "alphabetic", "dx": 11, "dy": -3, "fontSize": 16, "color": "#e83ee8"}, "encoding": {"x": {"datum": 0, "type": "quantitative", "axis": null}, "y": {"datum": 0, "type": "quantitative", "axis": null}}}
], "resolve": {"axis": {"x": "independent"}}},
{"width": 18, "height": 312, "layer": [
 {"data": {"name": "pollen"}, "transform": [{"filter": "datum.taxon == 'Chenopodiaceae/Amaranthaceae'"}], "mark": {"type": "rect", "color": "#ff00ff"}, "encoding": {"x": {"field": "value", "type": "quantitative", "scale": {"domain": [0, 10], "range": [0, 12.2], "nice": false}, "axis": {"orient": "bottom", "values": [0, 5, 10], "labels": false, "title": null}}, "x2": {"datum": 0}, "y": {"field": "top", "type": "quantitative", "scale": {"domain": [0, 76], "reverse": true, "nice": false}, "axis": null}, "y2": {"field": "bottom"}}},
 {"mark": {"type": "rule", "color": "#8a8a8a", "strokeWidth": 1.5}, "encoding": {"x": {"datum": 0, "type": "quantitative", "axis": {"orient": "top", "values": [0, 5, 10], "labels": false, "title": null}}, "y": {"datum": -1.5, "type": "quantitative", "axis": null}, "y2": {"datum": 77.2}}},
 {"mark": {"type": "text", "text": "Chenopodiaceae/Amaranthaceae", "angle": 302, "align": "left", "baseline": "alphabetic", "dx": 11, "dy": -3, "fontSize": 16, "color": "#e83ee8"}, "encoding": {"x": {"datum": 0, "type": "quantitative", "axis": null}, "y": {"datum": 0, "type": "quantitative", "axis": null}}}
], "resolve": {"axis": {"x": "independent"}}},
{"width": 19, "height": 312, "layer": [
 {"data": {"name": "pollen"}, "transform": [{"filter": "datum.taxon == 'Caryophyllaceae'"}], "mark": {"type": "rect", "color": "#ff00ff"}, "encoding": {"x": {"field": "value", "type": "quantitative", "scale": {"domain": [0, 10], "range": [0, 12.2], "nice": false}, "axis": {"orient": "bottom", "values": [0, 5, 10], "labels": false, "title": null}}, "x2": {"datum": 0}, "y": {"field": "top", "type": "quantitative", "scale": {"domain": [0, 76], "reverse": true, "nice": false}, "axis": null}, "y2": {"field": "bottom"}}},
 {"mark": {"type": "rule", "color": "#8a8a8a", "strokeWidth": 1.5}, "encoding": {"x": {"datum": 0, "type": "quantitative", "axis": {"orient": "top", "values": [0, 5, 10], "labels": false, "title": null}}, "y": {"datum": -1.5, "type": "quantitative", "axis": null}, "y2": {"datum": 77.2}}},
 {"mark": {"type": "text", "text": "Caryophyllaceae", "angle": 302, "align": "left", "baseline": "alphabetic", "dx": 11, "dy": -3, "fontSize": 16, "color": "#e83ee8"}, "encoding": {"x": {"datum": 0, "type": "quantitative", "axis": null}, "y": {"datum": 0, "type": "quantitative", "axis": null}}}
], "resolve": {"axis": {"x": "independent"}}},
{"width": 18, "height": 312, "layer": [
 {"data": {"name": "pollen"}, "transform": [{"filter": "datum.taxon == 'Valerianaceae'"}], "mark": {"type": "rect", "color": "#ff00ff"}, "encoding": {"x": {"field": "value", "type": "quantitative", "scale": {"domain": [0, 10], "range": [0, 12.2], "nice": false}, "axis": {"orient": "bottom", "values": [0, 5, 10], "labels": false, "title": null}}, "x2": {"datum": 0}, "y": {"field": "top", "type": "quantitative", "scale": {"domain": [0, 76], "reverse": true, "nice": false}, "axis": null}, "y2": {"field": "bottom"}}},
 {"mark": {"type": "rule", "color": "#8a8a8a", "strokeWidth": 1.5}, "encoding": {"x": {"datum": 0, "type": "quantitative", "axis": {"orient": "top", "values": [0, 5, 10], "labels": false, "title": null}}, "y": {"datum": -1.5, "type": "quantitative", "axis": null}, "y2": {"datum": 77.2}}},
 {"mark": {"type": "text", "text": "Valerianaceae", "angle": 302, "align": "left", "baseline": "alphabetic", "dx": 11, "dy": -3, "fontSize": 16, "color": "#e83ee8"}, "encoding": {"x": {"datum": 0, "type": "quantitative", "axis": null}, "y": {"datum": 0, "type": "quantitative", "axis": null}}}
], "resolve": {"axis": {"x": "independent"}}},
{"width": 18, "height": 312, "layer": [
 {"data": {"name": "pollen"}, "transform": [{"filter": "datum.taxon == 'Ranuncuaceae'"}], "mark": {"type": "rect", "color": "#ff00ff"}, "encoding": {"x": {"field": "value", "type": "quantitative", "scale": {"domain": [0, 10], "range": [0, 12.2], "nice": false}, "axis": {"orient": "bottom", "values": [0, 5, 10], "labels": false, "title": null}}, "x2": {"datum": 0}, "y": {"field": "top", "type": "quantitative", "scale": {"domain": [0, 76], "reverse": true, "nice": false}, "axis": null}, "y2": {"field": "bottom"}}},
 {"mark": {"type": "rule", "color": "#8a8a8a", "strokeWidth": 1.5}, "encoding": {"x": {"datum": 0, "type": "quantitative", "axis": {"orient": "top", "values": [0, 5, 10], "labels": false, "title": null}}, "y": {"datum": -1.5, "type": "quantitative", "axis": null}, "y2": {"datum": 77.2}}},
 {"mark": {"type": "text", "text": "Ranuncuaceae", "angle": 302, "align": "left", "baseline": "alphabetic", "dx": 11, "dy": -3, "fontSize": 16, "color": "#e83ee8"}, "encoding": {"x": {"datum": 0, "type": "quantitative", "axis": null}, "y": {"datum": 0, "type": "quantitative", "axis": null}}}
], "resolve": {"axis": {"x": "independent"}}},
{"width": 116, "height": 312, "layer": [
 {"data": {"name": "pollen"}, "transform": [{"filter": "datum.taxon == 'Liliaceae'"}], "mark": {"type": "rect", "color": "#ff00ff"}, "encoding": {"x": {"field": "value", "type": "quantitative", "scale": {"domain": [0, 90], "range": [0, 109.8], "nice": false}, "axis": {"orient": "bottom", "values": [0,5,10,15,20,25,30,35,40,45,50,55,60,65,70,75,80,85,90], "labelExpr": "datum.value > 0 && datum.value % 20 == 0 ? datum.label : ''", "title": null}}, "x2": {"datum": 0}, "y": {"field": "top", "type": "quantitative", "scale": {"domain": [0, 76], "reverse": true, "nice": false}, "axis": null}, "y2": {"field": "bottom"}}},
 {"mark": {"type": "rule", "color": "#8a8a8a", "strokeWidth": 1.5}, "encoding": {"x": {"datum": 0, "type": "quantitative", "axis": {"orient": "top", "values": [0,5,10,15,20,25,30,35,40,45,50,55,60,65,70,75,80,85,90], "labels": false, "title": null}}, "y": {"datum": -1.5, "type": "quantitative", "axis": null}, "y2": {"datum": 77.2}}},
 {"mark": {"type": "text", "text": "Liliaceae", "angle": 302, "align": "left", "baseline": "alphabetic", "dx": 11, "dy": -3, "fontSize": 16, "color": "#e83ee8"}, "encoding": {"x": {"datum": 0, "type": "quantitative", "axis": null}, "y": {"datum": 0, "type": "quantitative", "axis": null}}}
], "resolve": {"axis": {"x": "independent"}}},
{"width": 43, "height": 312, "layer": [
 {"data": {"name": "pollen"}, "transform": [{"filter": "datum.taxon == 'Botryococcus'"}], "mark": {"type": "rect", "color": "#0000ff"}, "encoding": {"x": {"field": "value", "type": "quantitative", "scale": {"domain": [0, 30], "range": [0, 36.6], "nice": false}, "axis": {"orient": "bottom", "values": [0,5,10,15,20,25,30], "labelExpr": "datum.value > 0 && datum.value % 20 == 0 ? datum.label : ''", "title": null}}, "x2": {"datum": 0}, "y": {"field": "top", "type": "quantitative", "scale": {"domain": [0, 76], "reverse": true, "nice": false}, "axis": null}, "y2": {"field": "bottom"}}},
 {"mark": {"type": "rule", "color": "#8a8a8a", "strokeWidth": 1.5}, "encoding": {"x": {"datum": 0, "type": "quantitative", "axis": {"orient": "top", "values": [0,5,10,15,20,25,30], "labels": false, "title": null}}, "y": {"datum": -1.5, "type": "quantitative", "axis": null}, "y2": {"datum": 77.2}}},
 {"mark": {"type": "text", "text": "Botryococcus", "angle": 302, "align": "left", "baseline": "alphabetic", "dx": 11, "dy": -3, "fontSize": 16, "color": "#3d3dc0"}, "encoding": {"x": {"datum": 0, "type": "quantitative", "axis": null}, "y": {"datum": 0, "type": "quantitative", "axis": null}}}
], "resolve": {"axis": {"x": "independent"}}},
{"width": 67, "height": 312, "layer": [
 {"data": {"name": "pollen"}, "transform": [{"filter": "datum.taxon == 'Arcella'"}], "mark": {"type": "rect", "color": "#7f7f7f"}, "encoding": {"x": {"field": "value", "type": "quantitative", "scale": {"domain": [0, 50], "range": [0, 61], "nice": false}, "axis": {"orient": "bottom", "values": [0,5,10,15,20,25,30,35,40,45,50], "labelExpr": "datum.value > 0 && datum.value % 20 == 0 ? datum.label : ''", "title": null}}, "x2": {"datum": 0}, "y": {"field": "top", "type": "quantitative", "scale": {"domain": [0, 76], "reverse": true, "nice": false}, "axis": null}, "y2": {"field": "bottom"}}},
 {"mark": {"type": "rule", "color": "#8a8a8a", "strokeWidth": 1.5}, "encoding": {"x": {"datum": 0, "type": "quantitative", "axis": {"orient": "top", "values": [0,5,10,15,20,25,30,35,40,45,50], "labels": false, "title": null}}, "y": {"datum": -1.5, "type": "quantitative", "axis": null}, "y2": {"datum": 77.2}}},
 {"mark": {"type": "rule", "color": "#8a8a8a", "strokeWidth": 1.5}, "encoding": {"x": {"datum": 54.92, "type": "quantitative", "axis": null}, "y": {"datum": -1.5, "type": "quantitative", "axis": null}, "y2": {"datum": 77.2}}},
 {"mark": {"type": "text", "text": "Arcella", "angle": 302, "align": "left", "baseline": "alphabetic", "dx": 11, "dy": -3, "fontSize": 16, "color": "#9a9a9a"}, "encoding": {"x": {"datum": 0, "type": "quantitative", "axis": null}, "y": {"datum": 0, "type": "quantitative", "axis": null}}}
], "resolve": {"axis": {"x": "independent"}}}
]
}
